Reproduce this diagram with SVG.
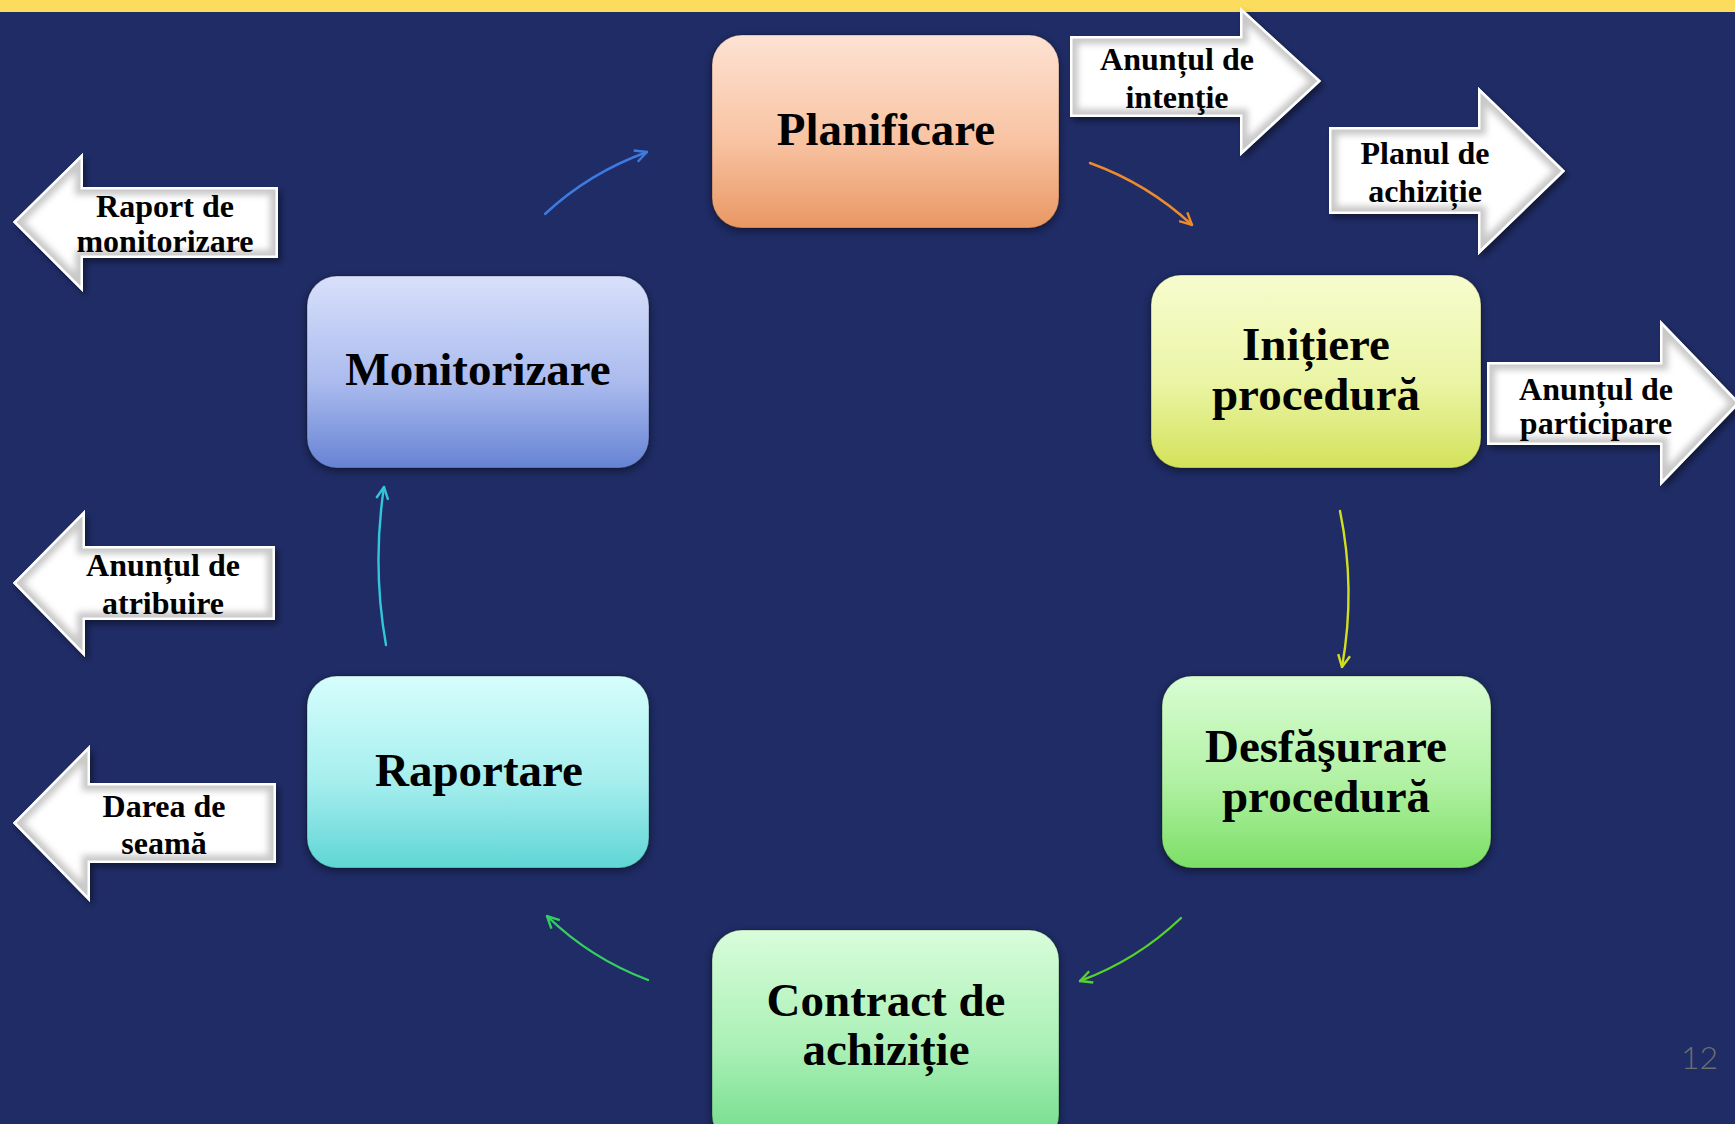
<svg xmlns="http://www.w3.org/2000/svg" xmlns:xlink="http://www.w3.org/1999/xlink" width="1735" height="1124" viewBox="0 0 1735 1124">
<style>
.node-text{font-family:"Liberation Serif","Times New Roman",serif;font-weight:bold;font-size:47px;fill:#000;text-anchor:middle}
.arrow-text{font-family:"Liberation Serif","Times New Roman",serif;font-weight:bold;font-size:32px;fill:#000;text-anchor:middle}
.box{stroke:rgba(0,0,0,0.25);stroke-width:1.2}
.conn{fill:none;stroke-width:2.4;stroke-linecap:round}
.bevel-outer{fill:#ffffff}
.bevel-band{fill:none;stroke:#c9c9c9;stroke-width:16;stroke-linejoin:miter}
.bevel-rim{fill:none;stroke:#ffffff;stroke-width:5;stroke-linejoin:miter}
.pagenum{font-family:Lato,"Open Sans",sans-serif;font-weight:300;font-size:32px;fill:#6e6e6e}
</style>
<defs>
<linearGradient id="gPlan" x1="0" y1="0" x2="0" y2="1"><stop offset="0" stop-color="#fde2d3"/><stop offset="0.55" stop-color="#f8c3a2"/><stop offset="1" stop-color="#e99763"/></linearGradient>
<linearGradient id="gInit" x1="0" y1="0" x2="0" y2="1"><stop offset="0" stop-color="#f7fcce"/><stop offset="0.55" stop-color="#ebf5a6"/><stop offset="1" stop-color="#d3e25a"/></linearGradient>
<linearGradient id="gMon" x1="0" y1="0" x2="0" y2="1"><stop offset="0" stop-color="#d8e0fb"/><stop offset="0.55" stop-color="#abbbee"/><stop offset="1" stop-color="#6683d4"/></linearGradient>
<linearGradient id="gRap" x1="0" y1="0" x2="0" y2="1"><stop offset="0" stop-color="#d6fefd"/><stop offset="0.55" stop-color="#a6eeee"/><stop offset="1" stop-color="#5fd5d5"/></linearGradient>
<linearGradient id="gDesf" x1="0" y1="0" x2="0" y2="1"><stop offset="0" stop-color="#d9fdd3"/><stop offset="0.55" stop-color="#b1f1a3"/><stop offset="1" stop-color="#7cdf66"/></linearGradient>
<linearGradient id="gCon" x1="0" y1="0" x2="0" y2="1"><stop offset="0" stop-color="#d8fdda"/><stop offset="0.55" stop-color="#aaf0b6"/><stop offset="1" stop-color="#70dc88"/></linearGradient>
<filter id="boxShadow" x="-20%" y="-20%" width="140%" height="140%"><feDropShadow dx="0" dy="3" stdDeviation="5" flood-color="#000" flood-opacity="0.45"/></filter>
<filter id="arrShadow" x="-20%" y="-30%" width="140%" height="160%"><feDropShadow dx="3" dy="4" stdDeviation="3" flood-color="#000" flood-opacity="0.45"/></filter>
<filter id="soft" x="-10%" y="-10%" width="120%" height="120%"><feGaussianBlur stdDeviation="3"/></filter>
<polygon id="aInt" points="1070,36 1240,36 1240,7 1321,81 1240,156 1240,117 1070,117"/>
<polygon id="aPlan" points="1329,127 1478,127 1478,87 1565,171 1478,255 1478,214 1329,214"/>
<polygon id="aPart" points="1487,362 1660,362 1660,320 1740,403 1660,486 1660,445 1487,445"/>
<polygon id="aRap" points="13,222 83,153 83,187 278,187 278,258 83,258 83,292"/>
<polygon id="aAtr" points="13,583 85,510 85,546 275,546 275,620 85,620 85,657"/>
<polygon id="aDar" points="13,823 90,745 90,783 276,783 276,863 90,863 90,902"/>
<clipPath id="cInt"><use xlink:href="#aInt"/></clipPath>
<clipPath id="cPlan"><use xlink:href="#aPlan"/></clipPath>
<clipPath id="cPart"><use xlink:href="#aPart"/></clipPath>
<clipPath id="cRap"><use xlink:href="#aRap"/></clipPath>
<clipPath id="cAtr"><use xlink:href="#aAtr"/></clipPath>
<clipPath id="cDar"><use xlink:href="#aDar"/></clipPath>
<marker id="mBlue" viewBox="0 0 14 14" refX="13" refY="7" markerWidth="14" markerHeight="14" markerUnits="userSpaceOnUse" orient="auto"><path d="M1,1 L13,7 L1,13" fill="none" stroke="#3d7ae0" stroke-width="2.4"/></marker>
<marker id="mOrange" viewBox="0 0 14 14" refX="13" refY="7" markerWidth="14" markerHeight="14" markerUnits="userSpaceOnUse" orient="auto"><path d="M1,1 L13,7 L1,13" fill="none" stroke="#ec8a2c" stroke-width="2.4"/></marker>
<marker id="mYellow" viewBox="0 0 14 14" refX="13" refY="7" markerWidth="14" markerHeight="14" markerUnits="userSpaceOnUse" orient="auto"><path d="M1,1 L13,7 L1,13" fill="none" stroke="#d2df1e" stroke-width="2.4"/></marker>
<marker id="mLime" viewBox="0 0 14 14" refX="13" refY="7" markerWidth="14" markerHeight="14" markerUnits="userSpaceOnUse" orient="auto"><path d="M1,1 L13,7 L1,13" fill="none" stroke="#55d22c" stroke-width="2.4"/></marker>
<marker id="mGreen" viewBox="0 0 14 14" refX="13" refY="7" markerWidth="14" markerHeight="14" markerUnits="userSpaceOnUse" orient="auto"><path d="M1,1 L13,7 L1,13" fill="none" stroke="#34cf5e" stroke-width="2.4"/></marker>
<marker id="mCyan" viewBox="0 0 14 14" refX="13" refY="7" markerWidth="14" markerHeight="14" markerUnits="userSpaceOnUse" orient="auto"><path d="M1,1 L13,7 L1,13" fill="none" stroke="#32c6d8" stroke-width="2.4"/></marker>
</defs>

<rect x="0" y="0" width="1735" height="1124" fill="#1f2c66"/>
<rect x="0" y="0" width="1735" height="12" fill="#fbdc5c"/>

<g id="connectors">
<path class="conn" d="M545,214 Q589,173 647,152" stroke="#3d7ae0" marker-end="url(#mBlue)"/>
<path class="conn" d="M1090,163 Q1148,184 1192,225" stroke="#ec8a2c" marker-end="url(#mOrange)"/>
<path class="conn" d="M1340,511 Q1356,589 1342,667" stroke="#d2df1e" marker-end="url(#mYellow)"/>
<path class="conn" d="M1181,918 Q1137,960 1080,981" stroke="#55d22c" marker-end="url(#mLime)"/>
<path class="conn" d="M648,980 Q590,958 547,916" stroke="#34cf5e" marker-end="url(#mGreen)"/>
<path class="conn" d="M386,645 Q372,566 384,487" stroke="#32c6d8" marker-end="url(#mCyan)"/>
</g>

<g id="node-planificare">
<rect class="box" x="712" y="35" width="347" height="193" rx="30" fill="url(#gPlan)" filter="url(#boxShadow)"/>
<text class="node-text" x="886" y="145">Planificare</text>
</g>
<g id="node-initiere">
<rect class="box" x="1151" y="275" width="330" height="193" rx="30" fill="url(#gInit)" filter="url(#boxShadow)"/>
<text class="node-text" x="1316" y="360">Inițiere</text>
<text class="node-text" x="1316" y="410">procedură</text>
</g>
<g id="node-desfasurare">
<rect class="box" x="1162" y="676" width="329" height="192" rx="30" fill="url(#gDesf)" filter="url(#boxShadow)"/>
<text class="node-text" x="1326" y="762">Desfăşurare</text>
<text class="node-text" x="1326" y="812">procedură</text>
</g>
<g id="node-contract">
<rect class="box" x="712" y="930" width="347" height="215" rx="30" fill="url(#gCon)" filter="url(#boxShadow)"/>
<text class="node-text" x="886" y="1016">Contract de</text>
<text class="node-text" x="886" y="1065">achiziție</text>
</g>
<g id="node-raportare">
<rect class="box" x="307" y="676" width="342" height="192" rx="30" fill="url(#gRap)" filter="url(#boxShadow)"/>
<text class="node-text" x="479" y="786">Raportare</text>
</g>
<g id="node-monitorizare">
<rect class="box" x="307" y="276" width="342" height="192" rx="30" fill="url(#gMon)" filter="url(#boxShadow)"/>
<text class="node-text" x="478" y="385">Monitorizare</text>
</g>

<g id="doc-anuntul-intentie">
<use xlink:href="#aInt" class="bevel-outer" filter="url(#arrShadow)"/>
<g clip-path="url(#cInt)"><use xlink:href="#aInt" class="bevel-band" filter="url(#soft)"/><use xlink:href="#aInt" class="bevel-rim"/></g>
<text class="arrow-text" x="1177" y="70">Anunțul de</text>
<text class="arrow-text" x="1177" y="108">intenţie</text>
</g>
<g id="doc-planul">
<use xlink:href="#aPlan" class="bevel-outer" filter="url(#arrShadow)"/>
<g clip-path="url(#cPlan)"><use xlink:href="#aPlan" class="bevel-band" filter="url(#soft)"/><use xlink:href="#aPlan" class="bevel-rim"/></g>
<text class="arrow-text" x="1425" y="164">Planul de</text>
<text class="arrow-text" x="1425" y="202">achiziție</text>
</g>
<g id="doc-participare">
<use xlink:href="#aPart" class="bevel-outer" filter="url(#arrShadow)"/>
<g clip-path="url(#cPart)"><use xlink:href="#aPart" class="bevel-band" filter="url(#soft)"/><use xlink:href="#aPart" class="bevel-rim"/></g>
<text class="arrow-text" x="1596" y="400">Anunțul de</text>
<text class="arrow-text" x="1596" y="434">participare</text>
</g>
<g id="doc-raport">
<use xlink:href="#aRap" class="bevel-outer" filter="url(#arrShadow)"/>
<g clip-path="url(#cRap)"><use xlink:href="#aRap" class="bevel-band" filter="url(#soft)"/><use xlink:href="#aRap" class="bevel-rim"/></g>
<text class="arrow-text" x="165" y="217">Raport de</text>
<text class="arrow-text" x="165" y="252">monitorizare</text>
</g>
<g id="doc-atribuire">
<use xlink:href="#aAtr" class="bevel-outer" filter="url(#arrShadow)"/>
<g clip-path="url(#cAtr)"><use xlink:href="#aAtr" class="bevel-band" filter="url(#soft)"/><use xlink:href="#aAtr" class="bevel-rim"/></g>
<text class="arrow-text" x="163" y="576">Anunțul de</text>
<text class="arrow-text" x="163" y="614">atribuire</text>
</g>
<g id="doc-darea">
<use xlink:href="#aDar" class="bevel-outer" filter="url(#arrShadow)"/>
<g clip-path="url(#cDar)"><use xlink:href="#aDar" class="bevel-band" filter="url(#soft)"/><use xlink:href="#aDar" class="bevel-rim"/></g>
<text class="arrow-text" x="164" y="817">Darea de</text>
<text class="arrow-text" x="164" y="854">seamă</text>
</g>

<text class="pagenum" x="1681" y="1069">12</text>
</svg>
